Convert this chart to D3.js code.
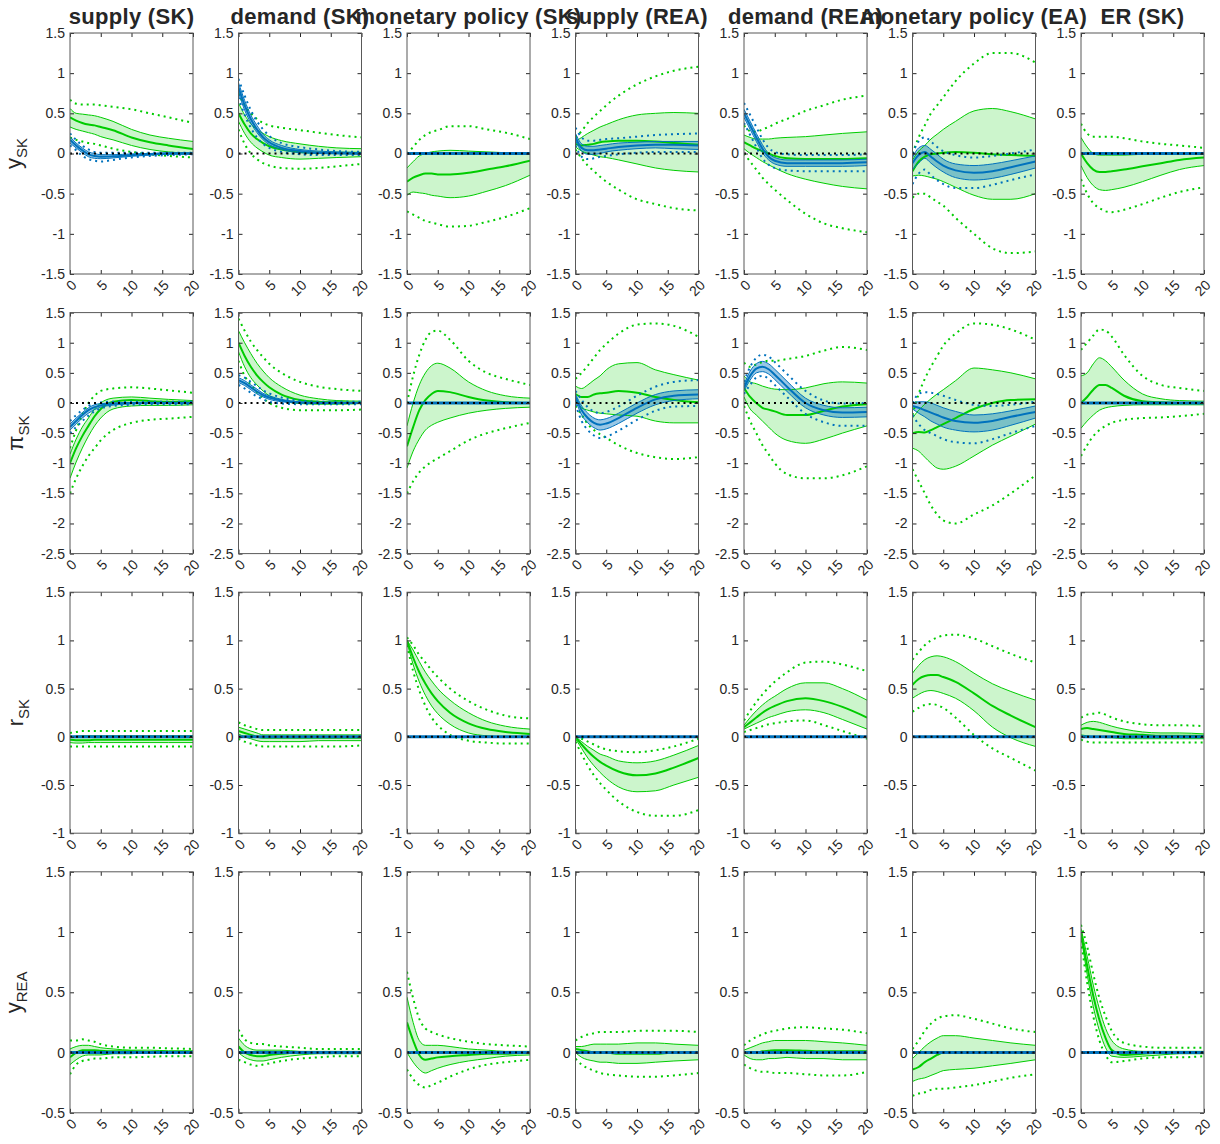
<!DOCTYPE html>
<html>
<head>
<meta charset="utf-8">
<script src="https://cdn.jsdelivr.net/npm/d3@7"></script>
<style>
  body { margin: 0; background: #fff; }
  text { font-family: "Liberation Sans", Arial, Helvetica, sans-serif; fill: #262626; }
</style>
</head>
<body>
<svg id="chart" width="1220" height="1144"></svg>
<script>
const horizons = [0, 1, 2, 3, 4, 5, 7, 10, 13, 16, 20];
const xTicks = [0, 5, 10, 15, 20];
const shocks = ["supply (SK)", "demand (SK)", "monetary policy (SK)", "supply (REA)",
  "demand (REA)", "monetary policy (EA)", "ER (SK)"];
const varNames = ["y", "\u03c0", "r", "y"];
const varSubs = ["SK", "SK", "SK", "REA"];
const yDomains = [[-1.5, 1.5], [-2.5, 1.5], [-1, 1.5], [-0.5, 1.5]];

// ---- y_SK, green (one array per shock)
const ySK_med = [
  [0.45,0.41,0.38,0.36,0.35,0.33,0.29,0.2,0.14,0.1,0.055],
  [0.5,0.36,0.25,0.18,0.13,0.09,0.05,0.02,0.01,0.01,0.01],
  [-0.35,-0.3,-0.27,-0.25,-0.25,-0.26,-0.26,-0.24,-0.2,-0.16,-0.09],
  [0.12,0.1,0.11,0.12,0.14,0.15,0.16,0.16,0.15,0.13,0.11],
  [0.14,0.1,0.06,0.03,0.0,-0.03,-0.06,-0.07,-0.07,-0.07,-0.06],
  [-0.22,-0.1,-0.04,-0.01,0.0,0.01,0.02,0.01,-0.01,-0.02,-0.03],
  [0.0,-0.12,-0.2,-0.23,-0.23,-0.22,-0.2,-0.16,-0.12,-0.08,-0.05]];
const ySK_hi68 = [
  [0.56,0.5,0.49,0.48,0.47,0.45,0.4,0.3,0.23,0.19,0.15],
  [0.63,0.48,0.37,0.3,0.25,0.21,0.16,0.12,0.09,0.07,0.06],
  [-0.18,-0.1,-0.03,0.0,0.02,0.03,0.04,0.03,0.02,0.01,0.0],
  [0.15,0.2,0.25,0.29,0.33,0.36,0.42,0.48,0.5,0.51,0.5],
  [0.23,0.2,0.18,0.18,0.18,0.19,0.2,0.21,0.23,0.25,0.27],
  [-0.08,0.03,0.1,0.18,0.24,0.3,0.4,0.53,0.56,0.52,0.43],
  [0.2,0.08,0.0,-0.02,-0.02,-0.02,-0.02,-0.01,-0.01,0.0,0.0]];
const ySK_lo68 = [
  [0.33,0.3,0.28,0.26,0.24,0.21,0.17,0.1,0.05,0.02,0.0],
  [0.4,0.25,0.14,0.07,0.02,-0.02,-0.05,-0.07,-0.06,-0.05,-0.04],
  [-0.52,-0.48,-0.49,-0.5,-0.52,-0.53,-0.55,-0.53,-0.47,-0.4,-0.27],
  [0.08,0.03,0.0,-0.02,-0.04,-0.05,-0.08,-0.13,-0.18,-0.21,-0.23],
  [0.06,0.0,-0.05,-0.1,-0.14,-0.18,-0.25,-0.32,-0.37,-0.41,-0.44],
  [-0.28,-0.27,-0.28,-0.3,-0.32,-0.35,-0.42,-0.52,-0.57,-0.57,-0.5],
  [-0.15,-0.3,-0.4,-0.45,-0.46,-0.45,-0.42,-0.35,-0.27,-0.2,-0.15]];
const ySK_hi90 = [
  [0.67,0.62,0.61,0.61,0.61,0.6,0.58,0.55,0.5,0.45,0.38],
  [0.75,0.6,0.5,0.43,0.38,0.35,0.32,0.29,0.26,0.23,0.2],
  [0.0,0.08,0.17,0.23,0.27,0.29,0.34,0.34,0.3,0.26,0.18],
  [0.2,0.28,0.38,0.46,0.53,0.6,0.72,0.86,0.96,1.03,1.08],
  [0.35,0.28,0.27,0.3,0.33,0.37,0.43,0.53,0.6,0.67,0.72],
  [0.0,0.2,0.35,0.5,0.6,0.7,0.9,1.12,1.25,1.25,1.13],
  [0.37,0.25,0.21,0.21,0.21,0.21,0.19,0.15,0.12,0.1,0.07]];
const ySK_lo90 = [
  [0.2,0.17,0.15,0.13,0.12,0.1,0.06,0.02,-0.01,-0.03,-0.05],
  [0.3,0.12,0.0,-0.07,-0.12,-0.15,-0.18,-0.19,-0.18,-0.16,-0.13],
  [-0.72,-0.76,-0.8,-0.84,-0.86,-0.88,-0.91,-0.9,-0.85,-0.79,-0.68],
  [0.05,-0.06,-0.15,-0.22,-0.29,-0.35,-0.45,-0.57,-0.63,-0.68,-0.71],
  [0.0,-0.1,-0.2,-0.3,-0.38,-0.45,-0.58,-0.75,-0.87,-0.93,-0.98],
  [-0.55,-0.5,-0.5,-0.55,-0.6,-0.65,-0.8,-1.0,-1.18,-1.24,-1.22],
  [-0.32,-0.5,-0.62,-0.68,-0.72,-0.73,-0.7,-0.63,-0.55,-0.48,-0.42]];
// ---- y_SK, blue (null = flat at zero)
const ySK_bMed = [
  [0.17,0.1,0.04,-0.01,-0.03,-0.04,-0.035,-0.02,-0.01,0,0],
  [0.82,0.6,0.43,0.3,0.2,0.14,0.07,0.03,0.01,0.005,0],
  null,
  [0.2,0.07,0.04,0.04,0.05,0.06,0.08,0.1,0.11,0.11,0.1],
  [0.5,0.35,0.2,0.06,-0.04,-0.09,-0.12,-0.12,-0.12,-0.12,-0.11],
  [-0.12,-0.02,0.02,-0.04,-0.1,-0.15,-0.21,-0.24,-0.22,-0.17,-0.1],
  null];
const ySK_bLo68 = [
  [0.13,0.07,0.01,-0.04,-0.06,-0.065,-0.055,-0.035,-0.02,-0.01,-0.01],
  [0.76,0.54,0.38,0.26,0.17,0.11,0.05,0.01,0,-0.005,-0.01],
  null,
  [0.16,0.03,-0.01,-0.01,0,0.02,0.04,0.06,0.07,0.06,0.05],
  [0.45,0.3,0.15,0.01,-0.08,-0.13,-0.16,-0.16,-0.16,-0.16,-0.15],
  [-0.2,-0.12,-0.06,-0.12,-0.18,-0.23,-0.3,-0.33,-0.31,-0.26,-0.18],
  null];
const ySK_bHi68 = [
  [0.21,0.13,0.07,0.02,0,-0.015,-0.015,-0.005,0,0.01,0.01],
  [0.88,0.66,0.48,0.35,0.24,0.17,0.1,0.05,0.03,0.02,0.01],
  null,
  [0.25,0.12,0.09,0.09,0.1,0.11,0.13,0.14,0.15,0.15,0.15],
  [0.55,0.4,0.25,0.11,0,-0.05,-0.08,-0.08,-0.08,-0.08,-0.07],
  [-0.05,0.07,0.1,0.05,-0.01,-0.07,-0.13,-0.15,-0.13,-0.09,-0.03],
  null];
const ySK_bLo90 = [
  [0.1,0.04,-0.03,-0.07,-0.09,-0.1,-0.08,-0.05,-0.03,-0.02,-0.01],
  [0.7,0.48,0.32,0.2,0.12,0.07,0.02,-0.01,-0.02,-0.02,-0.02],
  null,
  [0.1,-0.04,-0.07,-0.06,-0.04,-0.03,-0.01,0.01,0.02,0.02,0.02],
  [0.38,0.23,0.08,-0.06,-0.14,-0.18,-0.21,-0.22,-0.22,-0.22,-0.22],
  [-0.38,-0.25,-0.2,-0.27,-0.33,-0.38,-0.43,-0.43,-0.39,-0.33,-0.26],
  null];
const ySK_bHi90 = [
  [0.25,0.17,0.1,0.05,0.02,0.01,0.01,0.01,0.01,0.01,0.01],
  [0.93,0.72,0.54,0.4,0.3,0.22,0.13,0.08,0.05,0.03,0.02],
  null,
  [0.32,0.2,0.16,0.16,0.17,0.18,0.19,0.21,0.23,0.24,0.25],
  [0.63,0.48,0.33,0.18,0.07,0.02,-0.01,-0.02,-0.02,-0.02,-0.01],
  [0,0.15,0.2,0.15,0.08,0.03,-0.02,-0.05,-0.03,0,0.05],
  null];

// ---- pi_SK, green
const piSK_med = [
  [-1.0,-0.75,-0.55,-0.38,-0.22,-0.1,0.02,0.05,0.03,0.02,0.01],
  [1.0,0.78,0.6,0.46,0.35,0.26,0.14,0.05,0.02,0.01,0.0],
  [-0.72,-0.4,-0.12,0.05,0.15,0.2,0.18,0.1,0.04,0.01,0.0],
  [0.15,0.1,0.1,0.14,0.16,0.17,0.2,0.17,0.1,0.05,0.01],
  [0.25,0.1,0.0,-0.08,-0.11,-0.14,-0.2,-0.2,-0.13,-0.06,-0.02],
  [-0.5,-0.48,-0.49,-0.45,-0.4,-0.35,-0.25,-0.1,0.0,0.05,0.06],
  [0.0,0.1,0.22,0.3,0.3,0.25,0.12,0.03,0.01,0.0,0.0]];
const piSK_hi68 = [
  [-0.85,-0.6,-0.4,-0.25,-0.1,0.0,0.08,0.1,0.08,0.06,0.04],
  [1.2,1.0,0.82,0.66,0.53,0.42,0.27,0.13,0.07,0.04,0.03],
  [-0.38,0.0,0.3,0.5,0.62,0.66,0.58,0.35,0.2,0.12,0.08],
  [0.28,0.24,0.3,0.38,0.45,0.55,0.65,0.67,0.55,0.47,0.38],
  [0.45,0.35,0.32,0.28,0.25,0.23,0.22,0.25,0.32,0.35,0.33],
  [-0.25,-0.12,-0.02,0.07,0.15,0.22,0.37,0.58,0.55,0.5,0.4],
  [0.45,0.5,0.65,0.75,0.7,0.6,0.38,0.15,0.07,0.04,0.03]];
const piSK_lo68 = [
  [-1.25,-0.98,-0.75,-0.55,-0.38,-0.25,-0.1,-0.05,-0.04,-0.04,-0.03],
  [0.85,0.6,0.42,0.3,0.2,0.12,0.04,-0.01,-0.02,-0.02,-0.01],
  [-1.08,-0.8,-0.6,-0.45,-0.37,-0.32,-0.25,-0.17,-0.12,-0.09,-0.07],
  [0.05,-0.08,-0.12,-0.15,-0.17,-0.18,-0.2,-0.22,-0.3,-0.33,-0.33],
  [0.1,-0.1,-0.2,-0.3,-0.4,-0.5,-0.62,-0.67,-0.6,-0.5,-0.38],
  [-0.75,-0.8,-0.9,-1.0,-1.08,-1.1,-1.05,-0.88,-0.7,-0.55,-0.35],
  [-0.42,-0.3,-0.2,-0.12,-0.08,-0.06,-0.04,-0.03,-0.03,-0.03,-0.03]];
const piSK_hi90 = [
  [-0.75,-0.45,-0.2,0.0,0.12,0.2,0.24,0.26,0.24,0.21,0.17],
  [1.4,1.2,1.02,0.88,0.76,0.65,0.5,0.35,0.27,0.23,0.2],
  [0.0,0.45,0.8,1.05,1.18,1.2,1.05,0.7,0.5,0.4,0.3],
  [0.4,0.5,0.62,0.75,0.88,0.98,1.15,1.3,1.32,1.28,1.1],
  [0.67,0.6,0.64,0.68,0.7,0.7,0.73,0.78,0.87,0.93,0.88],
  [-0.2,0.15,0.4,0.6,0.78,0.95,1.15,1.32,1.3,1.22,1.05],
  [0.88,1.0,1.12,1.22,1.2,1.1,0.8,0.45,0.3,0.25,0.2]];
const piSK_lo90 = [
  [-1.5,-1.25,-1.05,-0.88,-0.75,-0.62,-0.45,-0.33,-0.28,-0.26,-0.23],
  [0.7,0.45,0.3,0.18,0.08,0.0,-0.08,-0.12,-0.12,-0.12,-0.11],
  [-1.5,-1.3,-1.15,-1.05,-0.98,-0.92,-0.8,-0.62,-0.5,-0.42,-0.33],
  [-0.05,-0.2,-0.35,-0.45,-0.52,-0.58,-0.7,-0.83,-0.9,-0.93,-0.9],
  [-0.05,-0.3,-0.5,-0.7,-0.85,-1.0,-1.18,-1.25,-1.25,-1.2,-1.05],
  [-1.1,-1.3,-1.5,-1.7,-1.85,-1.95,-2.0,-1.85,-1.7,-1.5,-1.2],
  [-0.88,-0.7,-0.55,-0.45,-0.38,-0.33,-0.28,-0.25,-0.24,-0.22,-0.18]];
// ---- pi_SK, blue
const piSK_bMed = [
  [-0.4,-0.3,-0.2,-0.12,-0.07,-0.04,-0.015,0,0,0,0],
  [0.38,0.33,0.26,0.19,0.13,0.09,0.04,0.01,0,0,0],
  null,
  [0.1,-0.12,-0.25,-0.33,-0.36,-0.34,-0.25,-0.08,0.06,0.12,0.14],
  [0.25,0.45,0.57,0.6,0.56,0.47,0.27,0,-0.12,-0.16,-0.15],
  [-0.05,-0.08,-0.12,-0.16,-0.2,-0.24,-0.3,-0.33,-0.3,-0.23,-0.15],
  null];
const piSK_bLo68 = [
  [-0.45,-0.35,-0.25,-0.17,-0.11,-0.07,-0.035,-0.015,-0.01,-0.01,-0.01],
  [0.34,0.29,0.22,0.15,0.1,0.06,0.02,0,-0.01,-0.01,-0.01],
  null,
  [0.05,-0.2,-0.33,-0.41,-0.45,-0.43,-0.34,-0.17,-0.03,0.04,0.07],
  [0.2,0.38,0.5,0.52,0.48,0.39,0.19,-0.08,-0.2,-0.24,-0.23],
  [-0.1,-0.17,-0.23,-0.3,-0.35,-0.4,-0.45,-0.48,-0.45,-0.37,-0.25],
  null];
const piSK_bHi68 = [
  [-0.35,-0.25,-0.16,-0.08,-0.03,-0.01,0,0.01,0.01,0.01,0.01],
  [0.42,0.37,0.3,0.23,0.16,0.12,0.06,0.02,0.01,0.01,0.01],
  null,
  [0.15,-0.05,-0.17,-0.25,-0.28,-0.26,-0.17,0,0.14,0.2,0.22],
  [0.3,0.53,0.65,0.69,0.65,0.56,0.36,0.08,-0.04,-0.08,-0.07],
  [0,0.02,0.02,0,-0.04,-0.08,-0.14,-0.2,-0.18,-0.13,-0.05],
  null];
const piSK_bLo90 = [
  [-0.5,-0.4,-0.3,-0.21,-0.14,-0.09,-0.05,-0.03,-0.02,-0.02,-0.02],
  [0.3,0.24,0.17,0.11,0.06,0.02,-0.01,-0.02,-0.02,-0.02,-0.02],
  null,
  [-0.02,-0.3,-0.45,-0.54,-0.58,-0.56,-0.46,-0.28,-0.13,-0.06,-0.05],
  [0.15,0.3,0.42,0.45,0.4,0.3,0.1,-0.18,-0.32,-0.38,-0.38],
  [-0.2,-0.35,-0.45,-0.5,-0.55,-0.6,-0.65,-0.67,-0.6,-0.5,-0.38],
  null];
const piSK_bHi90 = [
  [-0.3,-0.2,-0.12,-0.05,-0.01,0.01,0.02,0.02,0.02,0.02,0.02],
  [0.46,0.42,0.35,0.28,0.21,0.16,0.09,0.04,0.02,0.02,0.02],
  null,
  [0.2,0.05,-0.07,-0.14,-0.17,-0.15,-0.06,0.12,0.27,0.35,0.38],
  [0.35,0.6,0.75,0.8,0.77,0.68,0.48,0.2,0.04,-0.01,0],
  [0,0.15,0.18,0.17,0.15,0.12,0.05,-0.03,-0.05,-0.03,0.02],
  null];

// ---- r_SK, green (blue is flat at zero)
const rSK_med = [
  [-0.03,-0.035,-0.035,-0.035,-0.03,-0.03,-0.03,-0.03,-0.03,-0.03,-0.03],
  [0.06,0.04,0.02,0.0,-0.01,-0.01,-0.01,-0.01,-0.01,-0.01,-0.01],
  [1.0,0.82,0.67,0.55,0.45,0.37,0.25,0.14,0.08,0.05,0.03],
  [0.0,-0.08,-0.15,-0.21,-0.26,-0.3,-0.36,-0.4,-0.38,-0.32,-0.22],
  [0.1,0.15,0.2,0.25,0.29,0.32,0.37,0.4,0.37,0.31,0.2],
  [0.54,0.6,0.63,0.64,0.64,0.62,0.57,0.45,0.32,0.22,0.1],
  [0.08,0.09,0.08,0.07,0.06,0.05,0.03,0.02,0.01,0.01,0.01]];
const rSK_hi68 = [
  [0.0,0.005,0.01,0.01,0.01,0.01,0.01,0.01,0.01,0.01,0.01],
  [0.1,0.08,0.06,0.04,0.02,0.02,0.02,0.02,0.02,0.02,0.02],
  [1.0,0.9,0.78,0.67,0.58,0.5,0.38,0.25,0.16,0.11,0.08],
  [0.0,-0.05,-0.1,-0.14,-0.18,-0.2,-0.25,-0.27,-0.25,-0.19,-0.09],
  [0.12,0.2,0.27,0.33,0.38,0.42,0.5,0.56,0.56,0.5,0.38],
  [0.66,0.74,0.8,0.83,0.84,0.83,0.78,0.66,0.55,0.47,0.38],
  [0.12,0.15,0.16,0.15,0.13,0.11,0.08,0.05,0.04,0.04,0.03]];
const rSK_lo68 = [
  [-0.06,-0.065,-0.065,-0.06,-0.06,-0.06,-0.06,-0.06,-0.06,-0.06,-0.06],
  [0.03,0.0,-0.02,-0.04,-0.05,-0.05,-0.05,-0.05,-0.04,-0.04,-0.04],
  [0.98,0.75,0.57,0.43,0.32,0.24,0.13,0.04,0.01,0.0,0.0],
  [-0.02,-0.12,-0.22,-0.3,-0.37,-0.43,-0.52,-0.57,-0.56,-0.5,-0.42],
  [0.08,0.11,0.14,0.17,0.2,0.22,0.26,0.28,0.25,0.18,0.08],
  [0.4,0.44,0.47,0.48,0.47,0.45,0.4,0.27,0.1,-0.01,-0.1],
  [0.02,0.01,0.0,0.0,-0.01,-0.01,-0.02,-0.02,-0.02,-0.02,-0.02]];
const rSK_hi90 = [
  [0.04,0.05,0.06,0.06,0.06,0.06,0.06,0.06,0.06,0.06,0.06],
  [0.15,0.12,0.1,0.08,0.07,0.07,0.07,0.07,0.07,0.07,0.07],
  [1.03,0.95,0.85,0.77,0.69,0.62,0.5,0.37,0.28,0.22,0.19],
  [0.0,-0.02,-0.05,-0.08,-0.11,-0.13,-0.15,-0.16,-0.14,-0.1,-0.02],
  [0.17,0.27,0.36,0.44,0.51,0.57,0.67,0.77,0.78,0.75,0.68],
  [0.8,0.88,0.95,1.0,1.03,1.05,1.06,1.02,0.94,0.86,0.77],
  [0.2,0.23,0.24,0.25,0.23,0.2,0.16,0.13,0.12,0.12,0.11]];
const rSK_lo90 = [
  [-0.1,-0.1,-0.1,-0.1,-0.1,-0.1,-0.1,-0.1,-0.1,-0.1,-0.1],
  [-0.02,-0.05,-0.07,-0.09,-0.1,-0.1,-0.1,-0.1,-0.1,-0.1,-0.09],
  [0.95,0.68,0.48,0.32,0.2,0.12,0.02,-0.04,-0.06,-0.07,-0.07],
  [-0.05,-0.18,-0.3,-0.4,-0.48,-0.55,-0.67,-0.78,-0.82,-0.82,-0.76],
  [0.05,0.07,0.09,0.11,0.13,0.14,0.16,0.17,0.12,0.06,-0.02],
  [0.26,0.3,0.33,0.34,0.33,0.3,0.2,0.02,-0.12,-0.22,-0.35],
  [-0.03,-0.05,-0.06,-0.06,-0.06,-0.06,-0.06,-0.06,-0.06,-0.06,-0.06]];

// ---- y_REA, green (blue is flat at zero)
const yREA_med = [
  [-0.04,0.0,0.02,0.02,0.02,0.015,0.01,0.01,0.005,0.005,0.005],
  [0.05,0.0,-0.02,-0.03,-0.03,-0.02,-0.01,0.0,0.0,0.0,0.0],
  [0.25,0.1,-0.02,-0.06,-0.05,-0.04,-0.03,-0.02,-0.01,-0.01,0.0],
  [0.03,0.02,0.01,0.0,0.0,0.0,-0.01,-0.01,-0.01,0.0,0.0],
  [0.0,0.0,0.0,0.01,0.015,0.02,0.02,0.015,0.01,0.01,0.01],
  [-0.14,-0.12,-0.08,-0.05,-0.02,0.0,0.0,0.0,0.0,0.0,0.0],
  [1.0,0.72,0.47,0.27,0.12,0.02,-0.02,-0.01,0.0,0.0,0.0]];
const yREA_hi68 = [
  [0.03,0.05,0.06,0.06,0.05,0.04,0.03,0.02,0.02,0.015,0.015],
  [0.12,0.06,0.03,0.02,0.02,0.02,0.02,0.01,0.01,0.01,0.01],
  [0.46,0.25,0.1,0.06,0.06,0.06,0.05,0.03,0.02,0.01,0.01],
  [0.05,0.05,0.06,0.07,0.07,0.07,0.07,0.08,0.08,0.07,0.06],
  [0.02,0.04,0.06,0.08,0.09,0.1,0.1,0.1,0.09,0.08,0.06],
  [-0.05,0.0,0.05,0.09,0.12,0.14,0.14,0.12,0.1,0.08,0.06],
  [1.03,0.8,0.56,0.36,0.2,0.1,0.03,0.01,0.01,0.01,0.01]];
const yREA_lo68 = [
  [-0.1,-0.06,-0.03,-0.02,-0.02,-0.02,-0.01,-0.01,0.0,0.0,0.0],
  [0.0,-0.04,-0.06,-0.07,-0.07,-0.06,-0.04,-0.02,-0.01,-0.01,-0.01],
  [0.0,-0.08,-0.14,-0.17,-0.15,-0.13,-0.1,-0.07,-0.05,-0.03,-0.02],
  [0.0,-0.04,-0.06,-0.07,-0.08,-0.08,-0.09,-0.09,-0.08,-0.07,-0.06],
  [-0.02,-0.05,-0.06,-0.06,-0.05,-0.05,-0.04,-0.05,-0.05,-0.06,-0.06],
  [-0.24,-0.22,-0.21,-0.19,-0.17,-0.15,-0.14,-0.13,-0.11,-0.09,-0.06],
  [0.97,0.65,0.38,0.18,0.04,-0.03,-0.04,-0.03,-0.02,-0.01,-0.01]];
const yREA_hi90 = [
  [0.1,0.1,0.11,0.1,0.09,0.07,0.05,0.04,0.04,0.035,0.03],
  [0.19,0.11,0.08,0.07,0.07,0.06,0.05,0.04,0.03,0.03,0.03],
  [0.67,0.45,0.28,0.2,0.17,0.15,0.12,0.09,0.07,0.06,0.05],
  [0.1,0.13,0.15,0.16,0.17,0.17,0.17,0.18,0.18,0.18,0.17],
  [0.06,0.1,0.13,0.15,0.17,0.18,0.2,0.21,0.2,0.19,0.16],
  [0.03,0.1,0.18,0.24,0.28,0.3,0.31,0.28,0.24,0.2,0.17],
  [1.06,0.88,0.65,0.45,0.3,0.18,0.08,0.05,0.04,0.04,0.04]];
const yREA_lo90 = [
  [-0.18,-0.1,-0.07,-0.06,-0.05,-0.05,-0.04,-0.04,-0.035,-0.03,-0.03],
  [-0.06,-0.08,-0.1,-0.11,-0.1,-0.09,-0.07,-0.05,-0.04,-0.03,-0.03],
  [-0.14,-0.22,-0.27,-0.29,-0.27,-0.25,-0.2,-0.14,-0.1,-0.08,-0.06],
  [-0.05,-0.1,-0.13,-0.15,-0.17,-0.18,-0.19,-0.2,-0.2,-0.19,-0.17],
  [-0.1,-0.13,-0.15,-0.16,-0.16,-0.17,-0.17,-0.18,-0.19,-0.19,-0.16],
  [-0.36,-0.34,-0.33,-0.31,-0.3,-0.3,-0.29,-0.27,-0.24,-0.21,-0.18],
  [0.93,0.58,0.3,0.1,-0.02,-0.08,-0.07,-0.05,-0.04,-0.04,-0.03]];

const noBlue = [null, null, null, null, null, null, null];

// table built from the arrays above
const rows = [
  { med: ySK_med, lo68: ySK_lo68, hi68: ySK_hi68, lo90: ySK_lo90, hi90: ySK_hi90,
    bMed: ySK_bMed, bLo68: ySK_bLo68, bHi68: ySK_bHi68, bLo90: ySK_bLo90, bHi90: ySK_bHi90 },
  { med: piSK_med, lo68: piSK_lo68, hi68: piSK_hi68, lo90: piSK_lo90, hi90: piSK_hi90,
    bMed: piSK_bMed, bLo68: piSK_bLo68, bHi68: piSK_bHi68, bLo90: piSK_bLo90, bHi90: piSK_bHi90 },
  { med: rSK_med, lo68: rSK_lo68, hi68: rSK_hi68, lo90: rSK_lo90, hi90: rSK_hi90,
    bMed: noBlue, bLo68: noBlue, bHi68: noBlue, bLo90: noBlue, bHi90: noBlue },
  { med: yREA_med, lo68: yREA_lo68, hi68: yREA_hi68, lo90: yREA_lo90, hi90: yREA_hi90,
    bMed: noBlue, bLo68: noBlue, bHi68: noBlue, bLo90: noBlue, bHi90: noBlue }
];

const green = "#00cc00", blue = "#0072bd", axisCol = "#262626";
const panelW = 123, panelH = 241;
const colX = d3.range(7).map(i => 70 + i * 168.5);
const rowY = d3.range(4).map(j => 33 + j * 279.6);
const labelX = [21, 23, 23, 21];

const svg = d3.select("#chart");
const x = d3.scaleLinear().domain([0, 20]).range([0, panelW]);
const curve = d3.curveMonotoneX;

// column titles
svg.selectAll(".title").data(shocks).join("text")
  .attr("class", "title")
  .attr("x", (d, i) => colX[i] + panelW / 2)
  .attr("y", 24)
  .attr("text-anchor", "middle")
  .attr("font-size", 22)
  .attr("font-weight", "bold")
  .attr("letter-spacing", 0.3)
  .text(d => d);

rows.forEach((row, r) => {
  const [y0, y1] = yDomains[r];
  const y = d3.scaleLinear().domain(yDomains[r]).range([panelH, 0]);
  const yTicks = d3.range(y0, y1 + 0.001, 0.5).map(v => Math.round(v * 10) / 10);
  const line = d3.line().x((d, i) => x(horizons[i])).y(d => y(d)).curve(curve);
  const band = (lo, hi) => d3.area()
    .x((d, i) => x(horizons[i])).y0((d, i) => y(lo[i])).y1((d, i) => y(hi[i])).curve(curve)(lo);

  // row label with subscript
  const lab = svg.append("text")
    .attr("transform", `translate(${labelX[r]},${rowY[r] + panelH / 2}) rotate(-90)`)
    .attr("text-anchor", "middle")
    .attr("font-size", 22);
  lab.append("tspan").text(varNames[r]);
  lab.append("tspan").attr("font-size", 15).attr("dy", 6).text(varSubs[r]);

  shocks.forEach((s, c) => {
    const g = svg.append("g").attr("transform", `translate(${colX[c]},${rowY[r]})`);
    const clipId = `clip-${r}-${c}`;
    g.append("clipPath").attr("id", clipId)
      .append("rect").attr("width", panelW).attr("height", panelH);
    const plot = g.append("g").attr("clip-path", `url(#${clipId})`);

    const hasBlue = row.bMed[c] !== null;

    // shaded 68% bands
    plot.append("path").attr("d", band(row.lo68[c], row.hi68[c]))
      .attr("fill", green).attr("fill-opacity", 0.2);
    if (hasBlue) {
      plot.append("path").attr("d", band(row.bLo68[c], row.bHi68[c]))
        .attr("fill", blue).attr("fill-opacity", 0.4);
    }

    // green lines
    [row.lo68[c], row.hi68[c]].forEach(ser => plot.append("path")
      .attr("d", line(ser)).attr("fill", "none").attr("stroke", green).attr("stroke-width", 1));
    [row.lo90[c], row.hi90[c]].forEach(ser => plot.append("path")
      .attr("d", line(ser)).attr("fill", "none").attr("stroke", green)
      .attr("stroke-width", 2).attr("stroke-dasharray", "2,4"));
    plot.append("path").attr("d", line(row.med[c]))
      .attr("fill", "none").attr("stroke", green).attr("stroke-width", 2);

    // blue lines
    if (hasBlue) {
      [row.bLo68[c], row.bHi68[c]].forEach(ser => plot.append("path")
        .attr("d", line(ser)).attr("fill", "none").attr("stroke", blue).attr("stroke-width", 1));
      [row.bLo90[c], row.bHi90[c]].forEach(ser => plot.append("path")
        .attr("d", line(ser)).attr("fill", "none").attr("stroke", blue)
        .attr("stroke-width", 2).attr("stroke-dasharray", "2,4"));
      plot.append("path").attr("d", line(row.bMed[c]))
        .attr("fill", "none").attr("stroke", blue).attr("stroke-width", 2);
    } else {
      plot.append("line").attr("x1", x(0)).attr("x2", x(20))
        .attr("y1", y(0)).attr("y2", y(0))
        .attr("stroke", blue).attr("stroke-width", 3);
    }

    // zero reference line
    plot.append("line").attr("x1", x(0)).attr("x2", x(20))
      .attr("y1", y(0)).attr("y2", y(0))
      .attr("stroke", "#000").attr("stroke-width", 2).attr("stroke-dasharray", "2,4");

    // axes (ticks inside, box)
    const styleAxis = sel => {
      sel.select(".domain").remove();
      sel.selectAll(".tick line").attr("stroke", axisCol);
      sel.attr("font-family", null).attr("font-size", 14);
      sel.selectAll(".tick text").attr("fill", axisCol);
    };
    const bottom = g.append("g").attr("transform", `translate(0,${panelH})`)
      .call(d3.axisBottom(x).tickValues(xTicks).tickSizeInner(-4).tickSizeOuter(0))
      .call(styleAxis);
    bottom.selectAll(".tick text")
      .attr("y", null).attr("dy", null)
      .attr("text-anchor", "end")
      .attr("transform", "translate(7,12) rotate(-45)");
    g.append("g")
      .call(d3.axisTop(x).tickValues(xTicks).tickSizeInner(-4).tickSizeOuter(0).tickFormat(""))
      .call(styleAxis);
    g.append("g")
      .call(d3.axisLeft(y).tickValues(yTicks).tickSizeInner(-4).tickSizeOuter(0)
        .tickPadding(5).tickFormat(d => String(d)))
      .call(styleAxis);
    g.append("g").attr("transform", `translate(${panelW},0)`)
      .call(d3.axisRight(y).tickValues(yTicks).tickSizeInner(-4).tickSizeOuter(0).tickFormat(""))
      .call(styleAxis);
    g.append("rect").attr("width", panelW).attr("height", panelH)
      .attr("fill", "none").attr("stroke", "#595959").attr("stroke-width", 1);
  });
});
</script>
</body>
</html>
